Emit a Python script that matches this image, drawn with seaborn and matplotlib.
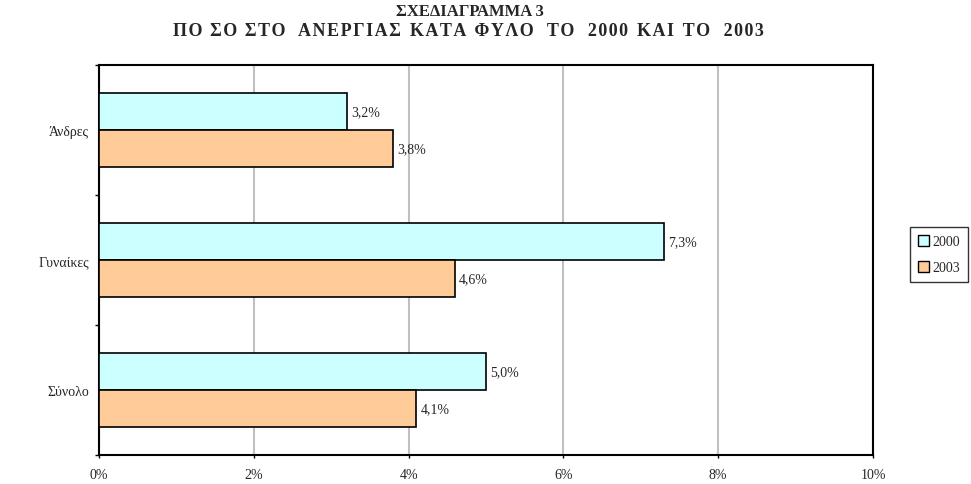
import matplotlib
matplotlib.use("Agg")
import matplotlib.pyplot as plt
import seaborn as sns
import pandas as pd
from matplotlib.patches import Patch

categories = ["Άνδρες", "Γυναίκες", "Σύνολο"]
years = ["2000", "2003"]
values_2000 = [3.2, 7.3, 5.0]
values_2003 = [3.8, 4.6, 4.1]
xticks = [0, 2, 4, 6, 8, 10]
xtick_labels = ["0%", "2%", "4%", "6%", "8%", "10%"]
colors = ["#CCFFFF", "#FFCC99"]
title1 = "ΣΧΕΔΙΑΓΡΑΜΜΑ 3"
title2_words = ["ΠΟ ΣΟ ΣΤΟ", "ΑΝΕΡΓΙΑΣ", "ΚΑΤΑ", "ΦΥΛΟ", "ΤΟ", "2000", "ΚΑΙ", "ΤΟ", "2003"]
title2_gaps = [3, 2, 2, 3, 3, 2, 2, 3]

df = pd.DataFrame({
    "cat": categories * 2,
    "year": [years[0]] * 3 + [years[1]] * 3,
    "val": values_2000 + values_2003,
})

sns.set_style("white")
plt.rcParams["font.family"] = ["Liberation Serif", "DejaVu Serif"]

W, H = 971, 485
fig = plt.figure(figsize=(W / 100, H / 100), dpi=100)
ax = fig.add_axes([99 / W, 1 - 456 / H, (873 - 99) / W, (456 - 66) / H])

sns.barplot(data=df, y="cat", x="val", hue="year", order=categories,
            hue_order=years, palette=colors, orient="h", width=0.566,
            edgecolor="black", linewidth=1.2, saturation=1, ax=ax,
            legend=False, zorder=3)

ax.set_xlim(0, 10)
ax.set_ylim(2.5, -0.5)
ax.set_xticks(xticks)
ax.set_xticklabels(xtick_labels, fontsize=10)
ax.set_yticks(range(len(categories)))
ax.set_yticklabels(categories, fontsize=10)
ax.set_yticks([-0.5, 0.5, 1.5, 2.5], minor=True)
ax.tick_params(axis="y", which="major", length=0, pad=7)
ax.tick_params(axis="y", which="minor", length=3, width=1, color="black", direction="out", left=True)
ax.tick_params(axis="x", which="major", length=2.5, width=1, color="black", direction="out", bottom=True, pad=7)
ax.set_xlabel("")
ax.set_ylabel("")
ax.grid(axis="x", color="#C0C0C0", linewidth=1.5, zorder=0)
ax.set_axisbelow(True)
for s in ax.spines.values():
    s.set_visible(True)
    s.set_color("black")
    s.set_linewidth(1.5)

for container in ax.containers:
    ax.bar_label(container, labels=[f"{v:.1f}".replace(".", ",") + "%" for v in container.datavalues],
                 padding=3, fontsize=10)

fig.text(470 / W, 1 - 12 / H, title1, ha="center", va="center",
         fontsize=12, fontweight="bold")
# letter-spaced second title line
hair = "\u200a"
parts = [hair.join(list(w)) for w in title2_words]
spaced = parts[0]
for g, p in zip(title2_gaps, parts[1:]):
    spaced += " " * g + p
fig.text(468 / W, 1 - 31 / H, spaced,
         ha="center", va="center", fontsize=13, fontweight="bold")

handles = [Patch(facecolor=c, edgecolor="black", linewidth=1) for c in colors]
leg = fig.legend(handles, years, loc="upper left", bbox_to_anchor=(910 / W, 1 - 228 / H),
                 frameon=True, fancybox=False, edgecolor="black", fontsize=10,
                 handlelength=0.8, handleheight=0.8, handletextpad=0.2,
                 borderpad=0.6, labelspacing=0.9, borderaxespad=0)
leg.get_frame().set_linewidth(1)

fig.savefig("out.png", dpi=100)
